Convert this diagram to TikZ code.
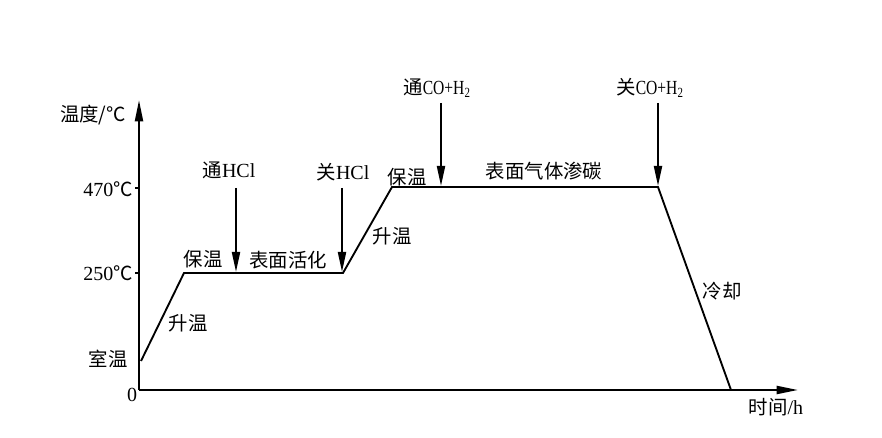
\documentclass[tikz,border=0pt]{standalone}
\usepackage{fontspec}
\setmainfont{Liberation Serif}
\newfontfamily\cjk[Scale=0.97]{Noto Sans CJK SC}
\newfontfamily\narrowlatin[FakeStretch=0.78]{Liberation Serif}
\usetikzlibrary{arrows.meta}
\begin{document}
\begin{tikzpicture}[x=0.75pt,y=-0.75pt,
  lbl/.style={inner sep=0pt, font=\fontsize{15}{18}\selectfont},
  curve/.style={line width=1.4pt, line join=miter},
  gasarrow/.style={line width=1.5pt, -{Triangle[length=15pt,width=6pt]}},
  axis/.style={line width=1.6pt, -{Triangle[length=16pt,width=6pt]}},
  tick/.style={line width=1pt}]
\useasboundingbox (0,0) rectangle (882,438);
% axes
\coordinate (O) at (139,390);
\coordinate (ytop) at (139,100);
\coordinate (xend) at (798,390);
\draw[axis] (O) -- (ytop);
\draw[axis] (O) -- (xend);
\coordinate (t470) at (139,188);
\coordinate (t250) at (139,273);
\draw[tick] (t470) -- ++(-4,0);
\draw[tick] (t250) -- ++(-4,0);
% process curve
\coordinate (p0) at (141,361);
\coordinate (p1) at (184,273);
\coordinate (p2) at (343,273);
\coordinate (p3) at (392,187);
\coordinate (p4) at (658,187);
\coordinate (p5) at (731,390);
\draw[curve] (p0) -- (p1) -- (p2) -- (p3) -- (p4) -- (p5);
% gas arrows
\coordinate (a1s) at (236,188); \coordinate (a1e) at (236,272);
\coordinate (a2s) at (342,188); \coordinate (a2e) at (342,272);
\coordinate (a3s) at (441,103); \coordinate (a3e) at (441,186);
\coordinate (a4s) at (658,103); \coordinate (a4e) at (658,186);
\draw[gasarrow] (a1s) -- (a1e);
\draw[gasarrow] (a2s) -- (a2e);
\draw[gasarrow] (a3s) -- (a3e);
\draw[gasarrow] (a4s) -- (a4e);
% labels
\node[lbl] (ylab) at (93,115) {\cjk 温度/℃};
\node[lbl] (l470) at (108,189) {470\cjk ℃};
\node[lbl] (l250) at (108,273) {250\cjk ℃};
\node[lbl] (lroom) at (108,359) {\cjk 室温};
\node[lbl] (lzero) at (132,395) {0};
\node[lbl] (heat1) at (188,323) {\cjk 升温};
\node[lbl] (hold1) at (203,259) {\cjk 保温};
\node[lbl] (onhcl) at (229,170) {{\cjk 通}HCl};
\node[lbl] (act) at (288,260) {\cjk 表面活化};
\node[lbl] (offhcl) at (343,172) {{\cjk 关}HCl};
\node[lbl] (hold2) at (407,177) {\cjk 保温};
\node[lbl] (heat2) at (392,236) {\cjk 升温};
\node[lbl] (onco) at (437,88) {{\cjk 通}{\narrowlatin CO+H\textsubscript{2}}};
\node[lbl] (offco) at (650,88) {{\cjk 关}{\narrowlatin CO+H\textsubscript{2}}};
\node[lbl] (carb) at (544,171) {\cjk 表面气体渗碳};
\node[lbl] (cool) at (722,291) {\cjk 冷却};
\node[lbl] (xlab) at (776,407) {{\cjk 时间}/h};
\end{tikzpicture}
\end{document}
